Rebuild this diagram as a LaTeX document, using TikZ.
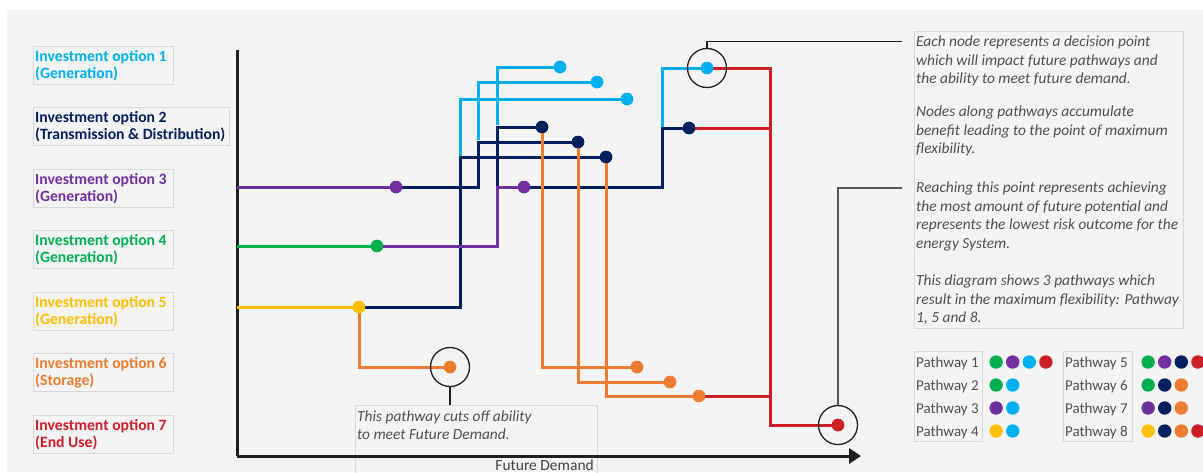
\documentclass[tikz,border=0pt]{standalone}
\usepackage{fontspec}
\setmainfont{Carlito}
\usetikzlibrary{arrows.meta}
\definecolor{bg}{HTML}{F4F4F4}
\definecolor{cy}{HTML}{00B0F0}
\definecolor{nv}{HTML}{002060}
\definecolor{pu}{HTML}{7030A0}
\definecolor{gr}{HTML}{00B050}
\definecolor{ye}{HTML}{FFC000}
\definecolor{orn}{HTML}{ED7D31}
\definecolor{rd}{HTML}{CC1F27}
\definecolor{txt}{HTML}{505050}
\definecolor{bx}{HTML}{D9D9D9}
\definecolor{ax}{HTML}{231F20}
\begin{document}
\begin{tikzpicture}[x=1pt,y=-1pt,
  route/.style={line width=3pt},
  dot/.style={circle,fill=#1,inner sep=0pt,minimum size=12.5pt},
  pdot/.style={circle,fill=#1,inner sep=0pt,minimum size=13.4pt},
  ring/.style={circle,draw=ax,line width=1.3pt,inner sep=0pt,minimum size=39pt},
  lbox/.style={draw=bx,line width=0.8pt,anchor=north west,inner sep=0pt,minimum height=38pt},
  ltext/.style={anchor=west,align=left,inner sep=0pt,font=\fontsize{15.7}{17}\selectfont\bfseries},
  itext/.style={anchor=base west,inner sep=0pt,text=txt,font=\fontsize{15.4}{18}\selectfont\itshape},
  ptext/.style={anchor=base west,inner sep=0pt,text=txt,font=\fontsize{15}{18}\selectfont},
  callout/.style={line width=1.2pt}
]
\useasboundingbox (0,0) rectangle (1203,472);
\fill[white] (0,0) rectangle (1203,472);
\fill[bg] (7,10) rectangle (1203,472);

% left legend
\node[lbox,minimum width=140pt] (L1) at (33,46) {};
\node[ltext,text=cy] (T1) at ([xshift=2pt]L1.west) {Investment option 1\\(Generation)};
\node[lbox,minimum width=196pt] (L2) at (33,107) {};
\node[ltext,text=nv] (T2) at ([xshift=2pt]L2.west) {Investment option 2\\(Transmission \& Distribution)};
\node[lbox,minimum width=140pt] (L3) at (33,169) {};
\node[ltext,text=pu] (T3) at ([xshift=2pt]L3.west) {Investment option 3\\(Generation)};
\node[lbox,minimum width=140pt] (L4) at (33,230) {};
\node[ltext,text=gr] (T4) at ([xshift=2pt]L4.west) {Investment option 4\\(Generation)};
\node[lbox,minimum width=140pt] (L5) at (33,292) {};
\node[ltext,text=ye] (T5) at ([xshift=2pt]L5.west) {Investment option 5\\(Generation)};
\node[lbox,minimum width=140pt] (L6) at (33,353) {};
\node[ltext,text=orn] (T6) at ([xshift=2pt]L6.west) {Investment option 6\\(Storage)};
\node[lbox,minimum width=140pt] (L7) at (33,415) {};
\node[ltext,text=rd] (T7) at ([xshift=2pt]L7.west) {Investment option 7\\(End Use)};

% bottom callout box
\node[draw=bx,line width=0.8pt,anchor=north west,inner sep=0pt,minimum width=242pt,minimum height=80pt] (CB) at (355,405) {};
\node[itext] (CT1) at (357,421.5) {This pathway cuts off ability};
\node[itext] (CT2) at (357,439.5) {to meet Future Demand.};

% axes
\coordinate (O) at (237,456);
\coordinate (YT) at (237,50);
\coordinate (XE) at (861,456);
\draw[ax,line width=3pt] (YT) -- (O);
\draw[ax,line width=3pt,-{Triangle[length=12pt,width=15pt]}] (O) -- (XE);
\node[anchor=base east,inner sep=0pt,text=ax!85,font=\fontsize{15.5}{18}\selectfont] (FD) at (594,470.5) {Future Demand};

% nodes (dots) positions
\coordinate (A3) at (237,187);
\coordinate (A4) at (237,246);
\coordinate (A5) at (237,307);
\node[dot=pu] (P3a) at (396,187) {};
\node[dot=gr] (G4) at (377,246) {};
\node[dot=ye] (Y5) at (359,307) {};
\node[dot=orn] (O6a) at (450,367) {};
\node[dot=cy] (C1a) at (560,67) {};
\node[dot=cy] (C1b) at (597,82) {};
\node[dot=cy] (C1c) at (627,99) {};
\node[dot=nv] (N2a) at (542,127) {};
\node[dot=nv] (N2b) at (578,142) {};
\node[dot=nv] (N2c) at (606,157) {};
\node[dot=pu] (P3b) at (524,187) {};
\node[dot=nv] (N2d) at (689,128) {};
\node[dot=cy] (C1d) at (707,68) {};
\node[dot=orn] (O6b) at (637,367) {};
\node[dot=orn] (O6c) at (670,382) {};
\node[dot=orn] (O6d) at (699,396) {};
\node[dot=rd] (R7) at (838,425) {};

\coordinate (K1) at (478,187);
\coordinate (K2) at (460,307);
\coordinate (K3) at (497,187);
\coordinate (K4) at (497,246);
\coordinate (K5) at (662,187);
\coordinate (K6) at (662,128);
\coordinate (K7) at (770,68);
\coordinate (K8) at (770,425);

% navy
\draw[route,nv] (P3a.center) -- (K1) |- (N2b.center);
\draw[route,nv] (Y5.center) -- (K2) |- (N2c.center);
\draw[route,nv] (K3) |- (N2a.center);
\draw[route,nv] (P3b.center) -- (K5) -- (K6) -- (N2d.center);
% cyan
\draw[route,cy] (497,125) |- (C1a.center);
\draw[route,cy] (478,140) |- (C1b.center);
\draw[route,cy] (460,155.5) |- (C1c.center);
\draw[route,cy] (662,126.5) |- (C1d.center);
% purple, green, yellow
\draw[route,pu] (A3) -- (P3a.center);
\draw[route,pu] (G4.center) -- (K4) |- (P3b.center);
\draw[route,gr] (A4) -- (G4.center);
\draw[route,ye] (A5) -- (Y5.center);
% orange
\draw[route,orn] (Y5.center) |- (O6a.center);
\draw[route,orn] (N2a.center) |- (O6b.center);
\draw[route,orn] (N2b.center) |- (O6c.center);
\draw[route,orn] (N2c.center) |- (O6d.center);
% red
\draw[route,rd] (C1d.center) -- (K7) -- (K8) -- (R7.center);
\draw[route,rd] (N2d.center) -- (K7 |- N2d);
\draw[route,rd] (O6d.center) -- (K7 |- O6d);

% redraw dots on top of the routes
\foreach \n/\c in {P3a/pu,G4/gr,Y5/ye,O6a/orn,C1a/cy,C1b/cy,C1c/cy,N2a/nv,N2b/nv,N2c/nv,P3b/pu,N2d/nv,C1d/cy,O6b/orn,O6c/orn,O6d/orn,R7/rd}
  \fill[\c] (\n) circle (6.25pt);

% rings
\node[ring] (RgA) at (O6a) {};
\node[ring] (RgB) at (C1d) {};
\node[ring] (RgC) at (R7) {};

% right text box
\node[draw=bx,line width=0.8pt,anchor=north west,inner sep=0pt,minimum width=269pt,minimum height=297pt] (RB) at (914,31) {};
\foreach \t/\y in {{Each node represents a decision point}/46.5,
  {which will impact future pathways and}/65,
  {the ability to meet future demand.}/83.5,
  {Nodes along pathways accumulate}/116.5,
  {benefit leading to the point of maximum}/135,
  {flexibility.}/153.5,
  {Reaching this point represents achieving}/192.5,
  {the most amount of future potential and}/211,
  {represents the lowest risk outcome for the}/229.5,
  {energy System.}/248,
  {This diagram shows 3 pathways which}/285.5,
  {result in the maximum flexibility: Pathway}/304,
  {1, 5 and 8.}/322.5}
  \node[itext] at (916,\y) {\t};

% callout lines
\coordinate (CA) at (902,41.5);
\coordinate (CC) at (902,188);
\draw[callout,ax] (RgB.north) |- (CA);
\draw[callout,ax!75] (RgC.north) |- (CC);
\draw[callout,ax] (RgA.south) -- (CB.north -| RgA.south);

% pathway table
\node[draw=bx,line width=0.8pt,anchor=north west,inner sep=0pt,minimum width=68pt,minimum height=90pt] (PB1) at (914,351) {};
\node[draw=bx,line width=0.8pt,anchor=north west,inner sep=0pt,minimum width=69pt,minimum height=90pt] (PB2) at (1063,351) {};
\foreach \k/\y in {1/367,2/390,3/413,4/436}
  \node[ptext] (PT\k) at (916,\y) {Pathway \k};
\foreach \k/\y in {5/367,6/390,7/413,8/436}
  \node[ptext] (PT\k) at (1065,\y) {Pathway \k};
\foreach \c [count=\i] in {gr,pu,cy,rd}
  \node[pdot=\c] (D1\i) at (979.5+16.6*\i,362) {};
\foreach \c [count=\i] in {gr,cy}
  \node[pdot=\c] (D2\i) at (979.5+16.6*\i,385) {};
\foreach \c [count=\i] in {pu,cy}
  \node[pdot=\c] (D3\i) at (979.5+16.6*\i,408) {};
\foreach \c [count=\i] in {ye,cy}
  \node[pdot=\c] (D4\i) at (979.5+16.6*\i,431) {};
\foreach \c [count=\i] in {gr,pu,nv,rd}
  \node[pdot=\c] (D5\i) at (1131.5+16.6*\i,362) {};
\foreach \c [count=\i] in {gr,nv,orn}
  \node[pdot=\c] (D6\i) at (1131.5+16.6*\i,385) {};
\foreach \c [count=\i] in {pu,nv,orn}
  \node[pdot=\c] (D7\i) at (1131.5+16.6*\i,408) {};
\foreach \c [count=\i] in {ye,nv,orn,rd}
  \node[pdot=\c] (D8\i) at (1131.5+16.6*\i,431) {};
\end{tikzpicture}
\end{document}
